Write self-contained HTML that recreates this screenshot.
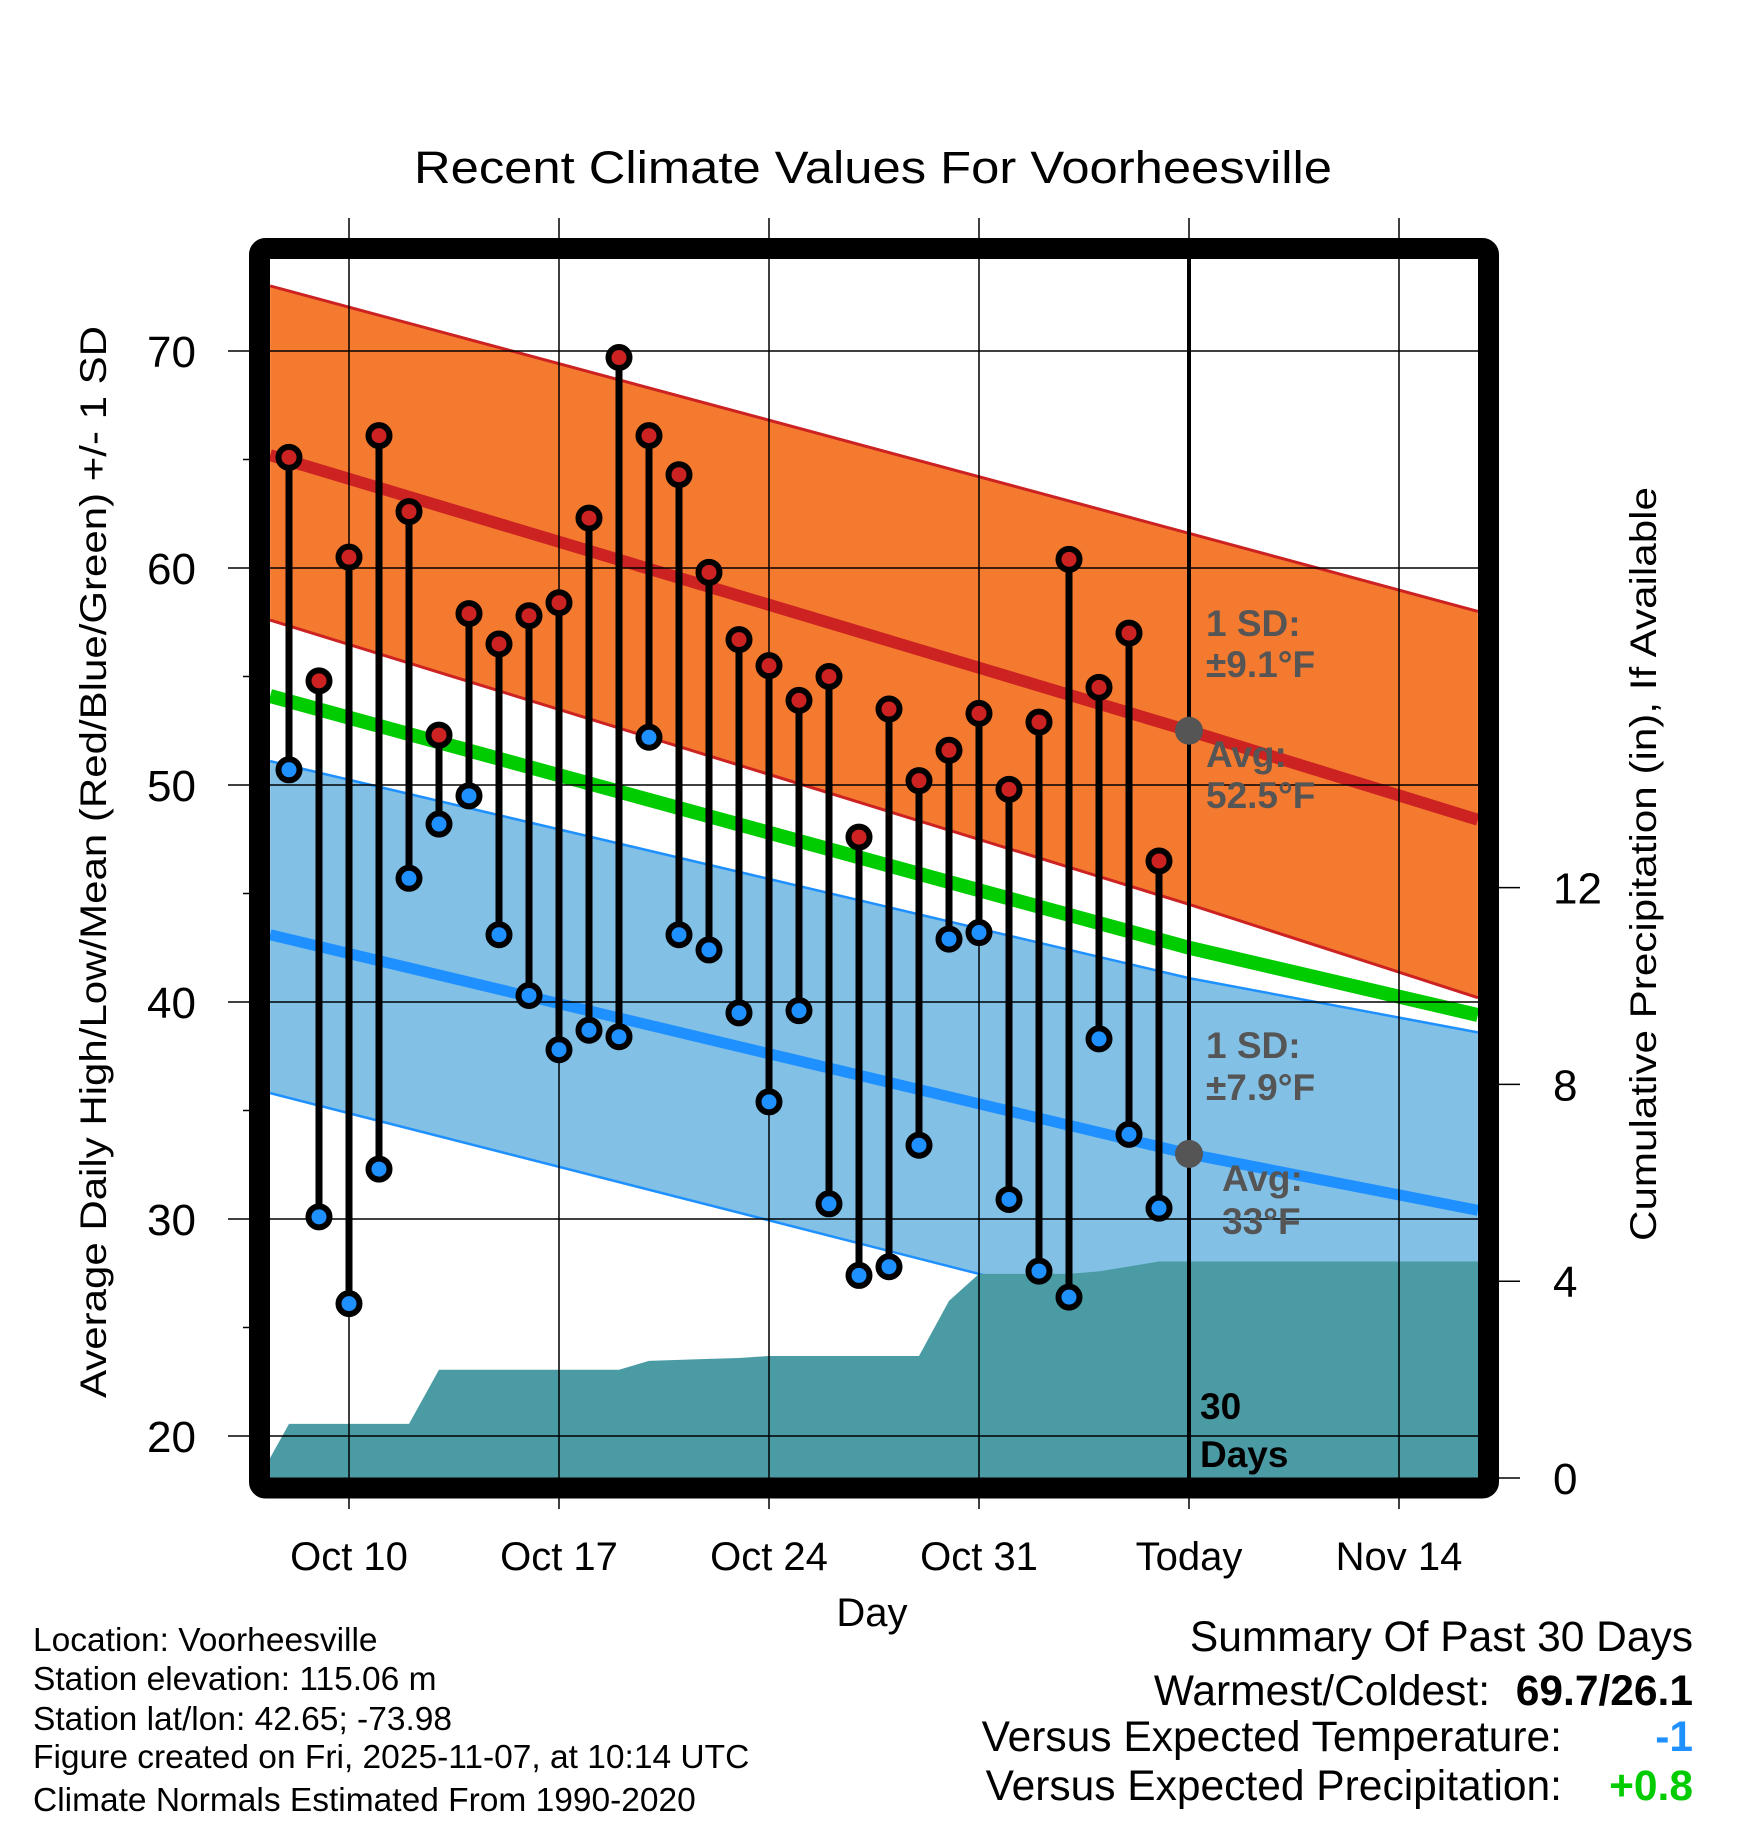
<!DOCTYPE html>
<html><head><meta charset="utf-8"><title>Recent Climate Values For Voorheesville</title>
<style>
html,body{margin:0;padding:0;background:#fff;}
svg{display:block;font-family:"Liberation Sans",Arial,sans-serif;}
</style></head>
<body>
<svg id="chart" xmlns="http://www.w3.org/2000/svg" width="1748" height="1828" viewBox="0 0 1748 1828">
<rect x="0" y="0" width="1748" height="1828" fill="#fff"/>
<defs><clipPath id="plotclip"><rect x="270" y="259" width="1208" height="1219"/></clipPath></defs>
<text x="873" y="183" font-size="45" text-anchor="middle" textLength="918" lengthAdjust="spacingAndGlyphs">Recent Climate Values For Voorheesville</text>
<g id="grid"></g>
<g id="plot" clip-path="url(#plotclip)"></g>
<g id="overlay"></g>
<rect x="259.5" y="248.5" width="1229" height="1239.5" rx="6" fill="none" stroke="#000" stroke-width="21"/>
<g id="axes"></g>
<text transform="translate(106,862) rotate(-90)" font-size="37" text-anchor="middle" textLength="1072" lengthAdjust="spacingAndGlyphs">Average Daily High/Low/Mean (Red/Blue/Green) +/- 1 SD</text>
<text transform="translate(1656,864) rotate(-90)" font-size="37" text-anchor="middle" textLength="754" lengthAdjust="spacingAndGlyphs">Cumulative Precipitation (in), If Available</text>
<text x="872" y="1626" font-size="40" text-anchor="middle">Day</text>
<g font-size="33.5">
<text x="33" y="1651">Location: Voorheesville</text>
<text x="33" y="1690">Station elevation: 115.06 m</text>
<text x="33" y="1730">Station lat/lon: 42.65; -73.98</text>
<text x="33" y="1768">Figure created on Fri, 2025-11-07, at 10:14 UTC</text>
<text x="33" y="1811">Climate Normals Estimated From 1990-2020</text>
</g>
<g font-size="42.5">
<text x="1693" y="1651" text-anchor="end">Summary Of Past 30 Days</text>
<text x="1490" y="1705" text-anchor="end">Warmest/Coldest:</text>
<text x="1693" y="1705" text-anchor="end" font-weight="bold">69.7/26.1</text>
<text x="1562" y="1751" text-anchor="end">Versus Expected Temperature:</text>
<text x="1693" y="1751" text-anchor="end" font-weight="bold" fill="#1E90FF">-1</text>
<text x="1562" y="1800" text-anchor="end">Versus Expected Precipitation:</text>
<text x="1693" y="1800" text-anchor="end" font-weight="bold" fill="#00CC00">+0.8</text>
</g>
</svg>
<script>
// ---- data (day index: Oct 1 = 1, Nov 7 = 38) ----
const obsDays = [8,9,10,11,12,13,14,15,16,17,18,19,20,21,22,23,24,25,26,27,28,29,30,31,32,33,34,35,36,37];
const highs = [65.1,54.8,60.5,66.1,62.6,52.3,57.9,56.5,57.8,58.4,62.3,69.7,66.1,64.3,59.8,56.7,55.5,53.9,55.0,47.6,53.5,50.2,51.6,53.3,49.8,52.9,60.4,54.5,57.0,46.5];
const lows = [50.7,30.1,26.1,32.3,45.7,48.2,49.5,43.1,40.3,37.8,38.7,38.4,52.2,43.1,42.4,39.5,35.4,39.6,30.7,27.4,27.8,33.4,42.9,43.2,30.9,27.6,26.4,38.3,33.9,30.5];
const normDays = [7.37,38,47.63];
const normHighAvg = [65.2,52.5,48.4];
const normHighUpper = [73.0,61.6,58.0];
const normHighLower = [57.6,44.5,40.2];
const normLowAvg = [43.1,33.0,30.4];
const normLowUpper = [51.1,41.1,38.6];
const normLowLower = [35.8,25.0,21.5];
const normMean = [54.1,42.5,39.4];
const precipDays = [7,8,9,10,11,12,13,14,15,16,17,18,19,20,21,22,23,24,25,26,27,28,29,30,31,32,33,34,35,36,37,38,48];
const precipCum = [0,1.1,1.1,1.1,1.1,1.1,2.2,2.2,2.2,2.2,2.2,2.2,2.2,2.38,2.4,2.42,2.44,2.48,2.48,2.48,2.48,2.48,2.48,3.6,4.15,4.15,4.15,4.15,4.2,4.3,4.4,4.4,4.4];
const xTickDays = [10,17,24,31,38,45];
const xTickLabels = ["Oct 10","Oct 17","Oct 24","Oct 31","Today","Nov 14"];
const yTicks = [20,30,40,50,60,70];
const yMinorTicks = [25,35,45,55,65];
const y2Ticks = [0,4,8,12];
const todayDay = 38;
const todayHighAvg = 52.5, todayLowAvg = 33;

// ---- scales ----
const x = d => 349 + (d - 10) * 30;
const y = t => 351 + (70 - t) * 21.7;
const yp = p => 1478 - p * 49.2;
const NS = "http://www.w3.org/2000/svg";
function mk(tag, parent, attrs){const e=document.createElementNS(NS,tag);for(const k in attrs)e.setAttribute(k,attrs[k]);parent.appendChild(e);return e;}
const plot = document.getElementById('plot'), grid = document.getElementById('grid'), axes = document.getElementById('axes'), overlay=document.getElementById('overlay');

function band(up, lo){let p=normDays.map((d,i)=>x(d)+','+y(up[i]));for(let i=normDays.length-1;i>=0;i--)p.push(x(normDays[i])+','+y(lo[i]));return p.join(' ');}
function line(arr){return normDays.map((d,i)=>x(d)+','+y(arr[i])).join(' ');}

let e;
e = mk('polygon', plot, {points: band(normHighUpper, normHighLower), fill:'#F47A2F'});
 
e = mk('polygon', plot, {points: band(normLowUpper, normLowLower), fill:'#82C0E6'});
 
[[normHighUpper,'#CC2222',3,'high-upper-line'],[normHighLower,'#CC2222',3,'high-lower-line'],[normLowUpper,'#1E90FF',2.5,'low-upper-line'],[normLowLower,'#1E90FF',2.5,'low-lower-line'],[normMean,'#00CC00',14,'mean-normal-line'],[normHighAvg,'#CC2222',12,'high-normal-line'],[normLowAvg,'#1E90FF',11,'low-normal-line']].forEach(s=>{
  const l = mk('polyline', plot, {points: line(s[0]), fill:'none', stroke:s[1], 'stroke-width':s[2]});
  
  
});
// precipitation area
{
  let pts = [x(precipDays[0])+','+yp(0)];
  precipDays.forEach((d,i)=>pts.push(x(d)+','+yp(precipCum[i])));
  pts.push(x(precipDays[precipDays.length-1])+','+yp(0));
  const a = mk('polygon', plot, {points: pts.join(' '), fill:'#4A9BA4'});
  
  
}
// grid lines
xTickDays.forEach((d,i)=>{
  const g = mk('line', grid, {x1:x(d), x2:x(d), y1:218, y2:1509, stroke:'#000', 'stroke-width':1.5});
  
  
  const t = mk('text', axes, {x:x(d), y:1570, 'font-size':40, 'text-anchor':'middle'});
  t.textContent = xTickLabels[i];
  
  
});
plot.parentNode.insertBefore(grid, overlay);
yTicks.forEach(v=>{
  const g = mk('line', grid, {x1:228, x2:1478, y1:y(v), y2:y(v), stroke:'#000', 'stroke-width':1.5});
  
  
  const t = mk('text', axes, {x:196, y:y(v)+16, 'font-size':44, 'text-anchor':'end'});
  t.textContent = v;
  
  
});
yMinorTicks.forEach(v=>{
  const g = mk('line', axes, {x1:243, x2:250, y1:y(v), y2:y(v), stroke:'#000', 'stroke-width':1.5});
  
  
});
y2Ticks.forEach(v=>{
  const g = mk('line', axes, {x1:1498, x2:1520, y1:yp(v), y2:yp(v), stroke:'#000', 'stroke-width':1.5});
  
  
  const t = mk('text', axes, {x:1553, y:yp(v)+16, 'font-size':44});
  t.textContent = v;
  
  
});
// today line
e = mk('line', overlay, {x1:x(todayDay), x2:x(todayDay), y1:259, y2:1478, stroke:'#000', 'stroke-width':4});
 
// stems and markers
obsDays.forEach((d,i)=>{
  const s = mk('line', overlay, {x1:x(d), x2:x(d), y1:y(highs[i]), y2:y(lows[i]), stroke:'#000', 'stroke-width':7});
  
  
});
obsDays.forEach((d,i)=>{
  const h = mk('circle', overlay, {cx:x(d), cy:y(highs[i]), r:10.5, fill:'#CC2222', stroke:'#000', 'stroke-width':6});
  
  
  const l = mk('circle', overlay, {cx:x(d), cy:y(lows[i]), r:10.5, fill:'#1E90FF', stroke:'#000', 'stroke-width':6});
  
  
});
e = mk('circle', overlay, {cx:x(todayDay), cy:y(todayHighAvg), r:14, fill:'#555'});
 
e = mk('circle', overlay, {cx:x(todayDay), cy:y(todayLowAvg), r:14, fill:'#555'});
 
// annotations
const ann = [
  [1206,636,'1 SD:','#555','high-sd-label'],[1206,677,'±9.1°F','#555','high-sd-value'],
  [1206,767,'Avg:','#555','high-avg-label'],[1206,808,'52.5°F','#555','high-avg-value'],
  [1206,1058,'1 SD:','#555','low-sd-label'],[1206,1100,'±7.9°F','#555','low-sd-value'],
  [1222,1191,'Avg:','#555','low-avg-label'],[1222,1234,'33°F','#555','low-avg-value'],
  [1200,1419,'30','#000','days-count'],[1200,1467,'Days','#000','days-label']
];
ann.forEach(a=>{
  const t = mk('text', overlay, {x:a[0], y:a[1], 'font-size':37, 'font-weight':'bold', fill:a[3]});
  t.textContent = a[2];
  
  
});
</script>
</body></html>
